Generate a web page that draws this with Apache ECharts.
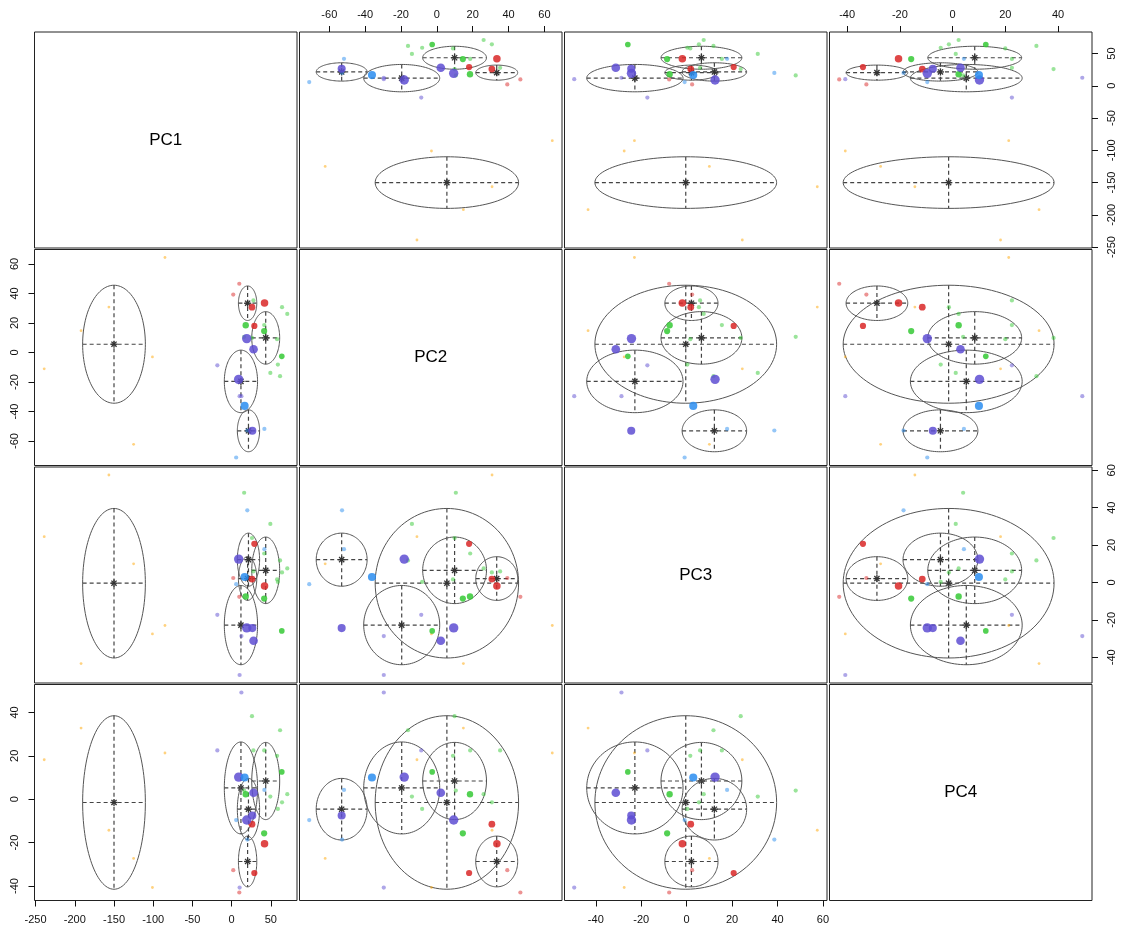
<!DOCTYPE html>
<html>
<head>
<meta charset="utf-8">
<title>PCA scores matrix</title>
<script src="https://cdn.jsdelivr.net/npm/echarts@6/dist/echarts.min.js"></script>
<style>
  html, body { margin: 0; padding: 0; background: #ffffff; }
  #chart { width: 1125px; height: 929px; }
</style>
</head>
<body>
<div id="chart"></div>
<script>
// Component names shown on the diagonal
const varNames = ['PC1', 'PC2', 'PC3', 'PC4'];

// Observation class (S1..S5) and relative abundance of each observation
const obsClass = [
  'S1', 'S1', 'S1', 'S1', 'S1', 'S1',
  'S2', 'S2',
  'S3', 'S3', 'S3', 'S3', 'S3', 'S3', 'S3', 'S3', 'S3', 'S3',
  'S5', 'S5', 'S5',
  'S4', 'S4', 'S4',
  'S3',
  'S2', 'S2', 'S2', 'S3', 'S3', 'S4', 'S4', 'S4', 'S4', 'S5'
];
const abundance = [
  0.30, 0.30, 0.30, 0.30, 0.30, 0.30,
  0.45, 0.45,
  0.45, 0.45, 0.45, 0.45, 0.45, 0.45, 0.45, 0.45, 0.45, 0.45,
  0.45, 0.45, 0.45,
  0.45, 0.45, 0.45,
  0.60,
  0.80, 0.72, 0.66, 0.66, 0.68, 0.92, 1.00, 1.00, 0.86, 0.86
];

// Scores on the four principal components
const pc1 = [
  -85, -156.5, -192, -101, -239, -125,
  9.8, 2.1,
  27.8, 64.3, 71, 41.6, 58, 59, 49.4, 61.8, 16, 26,
  5.8, 41.8, 20,
  -18.2, 12.5, 10.2,
  64,
  42, 26, 29, 41.5, 18, 28, 19.3, 9, 26.4, 16.6
];
const pc2 = [
  64.4, 30.8, 14.8, -3, -11.1, -62.3,
  46.6, 39.3,
  35.3, 30.7, 26.1, 18.6, 9, -8.2, -13.9, -16.1, 10.6, 9.9,
  -71.2, -51.8, -52.9,
  -8.7, -29.6, -29.6,
  -2.6,
  33.5, 30.7, 18, 14.5, 18.5, 2.2, 9.4, -18.2, -53.1, -36.2
];
const pc3 = [
  -23, 57.5, -43.4, -27.5, 24.5, 10,
  -7.7, 2.4,
  5.9, 5.4, 7.5, 15.5, 1.6, 0.3, 31.3, 11.8, 48, 23.8,
  -0.9, 17.8, 38.6,
  -17.3, -28.7, -49.5,
  -25.9,
  -1.9, 1.8, 20.7, -8.6, -7.5, -31.2, -24.3, 12.5, -24.4, 2.9
];
const pc4 = [
  21.3, -14.3, 32.8, -40.7, 18.2, -27.3,
  -43, -32.7,
  22.5, -1.4, 2.3, 22.5, 20, -4.5, 1.2, 31.8, 4, 38.3,
  -9.6, 4.3, -18.6,
  22.5, 49.2, -40.7,
  12.6,
  -20.5, -11.5, -34, -15.7, 2.3, 3, -9.6, 10.2, -7.5, 10
];

// Cluster centres on each component and the cluster radius
const centrePC1 = [-150, 20.4, 43.5, 11.9, 21.5];
const centrePC2 = [5.6, 33.4, 9.9, -19.6, -53.1];
const centrePC3 = [-0.4, 2.1, 6.5, -22.8, 12.2];
const centrePC4 = [-1.5, -28.7, 8.4, 5.2, -4.6];
const centreRadius = [40, 11.7, 17.8, 21.2, 14.2];

// Tick labels per component
const ticksPC1 = [-250, -200, -150, -100, -50, 0, 50];
const ticksPC2 = [-60, -40, -20, 0, 20, 40, 60];
const ticksPC3 = [-40, -20, 0, 20, 40, 60];
const ticksPC4 = [-40, -20, 0, 20, 40];

// ---- styling and layout ----
const palette = { S1: '#FFA500', S2: '#D92727', S3: '#35C935', S4: '#5E4ED2', S5: '#2A8DF0' };
const FONT = 'Liberation Sans, Arial, Helvetica, sans-serif';
const panelLeft = [34.5, 299.5, 564.5, 829.5];
const panelTop = [32, 249.5, 467, 684.5];
const panelW = 262.5, panelH = 216;

const scores = [pc1, pc2, pc3, pc4];
const centres = [centrePC1, centrePC2, centrePC3, centrePC4];
const ticks = [ticksPC1, ticksPC2, ticksPC3, ticksPC4];

// pairs()-style range: data range padded by 4% on each side
function paddedRange(v) {
  const lo = Math.min(...v), hi = Math.max(...v), pad = (hi - lo) * 0.04;
  return [lo - pad, hi + pad];
}
const ranges = scores.map(paddedRange);

function axisCfg(k, v, pos, vertical) {
  const show = !!pos;
  const margin = pos === 'top' ? 12 : 14;
  return {
    gridIndex: k,
    type: 'value',
    min: ranges[v][0],
    max: ranges[v][1],
    position: pos || (vertical ? 'left' : 'bottom'),
    axisLine: { show: false, onZero: false },
    splitLine: { show: false },
    axisTick: { show: show, inside: false, length: 6, customValues: ticks[v], lineStyle: { color: '#111', width: 1 } },
    axisLabel: {
      show: show, customValues: ticks[v], rotate: vertical ? 90 : 0, margin: margin,
      fontSize: 11, color: '#111', fontFamily: FONT
    }
  };
}

// Ellipse outline, dashed cross and star at each cluster centre
function renderCluster(params, api) {
  const cx = api.value(0), cy = api.value(1), r = api.value(2);
  const pts = [];
  for (let t = 0; t <= 120; t++) {
    const a = t / 120 * Math.PI * 2;
    pts.push(api.coord([cx + r * Math.cos(a), cy + r * Math.sin(a)]));
  }
  const c = api.coord([cx, cy]);
  const l = api.coord([cx - r, cy]), rr = api.coord([cx + r, cy]);
  const t = api.coord([cx, cy + r]), b = api.coord([cx, cy - r]);
  const dash = { stroke: '#444', lineWidth: 1.2, lineDash: [4, 3] };
  const star = { stroke: '#333', lineWidth: 1.3 };
  const s = 3.6, d = 2.6;
  return {
    type: 'group',
    children: [
      { type: 'polyline', shape: { points: pts }, style: { stroke: '#555', lineWidth: 1, fill: 'none' } },
      { type: 'line', shape: { x1: l[0], y1: l[1], x2: rr[0], y2: rr[1] }, style: dash },
      { type: 'line', shape: { x1: t[0], y1: t[1], x2: b[0], y2: b[1] }, style: dash },
      { type: 'line', shape: { x1: c[0] - s, y1: c[1], x2: c[0] + s, y2: c[1] }, style: star },
      { type: 'line', shape: { x1: c[0], y1: c[1] - s, x2: c[0], y2: c[1] + s }, style: star },
      { type: 'line', shape: { x1: c[0] - d, y1: c[1] - d, x2: c[0] + d, y2: c[1] + d }, style: star },
      { type: 'line', shape: { x1: c[0] - d, y1: c[1] + d, x2: c[0] + d, y2: c[1] - d }, style: star }
    ]
  };
}

const grids = [], xAxes = [], yAxes = [], series = [], graphics = [];
for (let i = 0; i < 4; i++) {
  for (let j = 0; j < 4; j++) {
    const k = i * 4 + j;
    grids.push({
      left: panelLeft[j], top: panelTop[i], width: panelW, height: panelH,
      show: true, borderColor: '#222', borderWidth: 1, backgroundColor: '#fff'
    });
    const xPos = (i === 3 && j % 2 === 0) ? 'bottom' : (i === 0 && j % 2 === 1) ? 'top' : null;
    const yPos = (j === 0 && i % 2 === 1) ? 'left' : (j === 3 && i % 2 === 0) ? 'right' : null;
    xAxes.push(axisCfg(k, j, xPos, false));
    yAxes.push(axisCfg(k, i, yPos, true));

    if (i === j) {
      graphics.push({
        type: 'text',
        x: panelLeft[j] + panelW / 2,
        y: panelTop[i] + panelH / 2,
        style: { text: varNames[i], fontSize: 17, fontFamily: FONT, fill: '#000', align: 'center', verticalAlign: 'middle' }
      });
      continue;
    }

    series.push({
      type: 'custom',
      xAxisIndex: k, yAxisIndex: k,
      silent: true, z: 2,
      encode: { x: 0, y: 1 },
      data: centreRadius.map((r, g) => [centres[j][g], centres[i][g], r]),
      renderItem: renderCluster
    });

    series.push({
      type: 'scatter',
      xAxisIndex: k, yAxisIndex: k,
      silent: true, z: 3,
      data: pc1.map((_, n) => ({
        value: [scores[j][n], scores[i][n]],
        symbolSize: 9.4 * abundance[n],
        itemStyle: { color: palette[obsClass[n]], opacity: abundance[n] < 0.5 ? 0.5 : 0.85 }
      }))
    });
  }
}

const chart = echarts.init(document.getElementById('chart'), null, { renderer: 'canvas' });
chart.setOption({
  animation: false,
  backgroundColor: '#ffffff',
  grid: grids,
  xAxis: xAxes,
  yAxis: yAxes,
  series: series,
  graphic: graphics
});
</script>
</body>
</html>
